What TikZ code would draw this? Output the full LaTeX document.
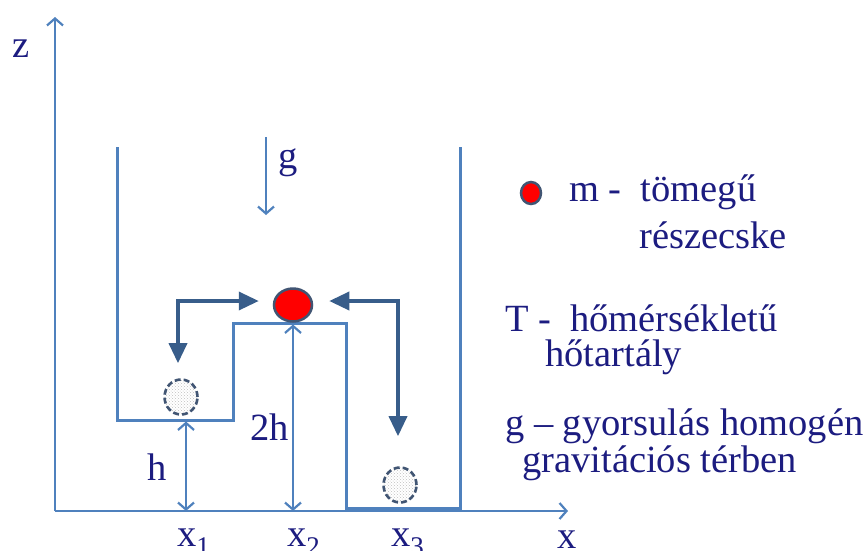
\documentclass[tikz,border=0pt]{standalone}
\usepackage{fontspec}
\setmainfont{Liberation Serif}
\usetikzlibrary{arrows.meta,shapes.geometric,patterns}
\definecolor{axisblue}{RGB}{79,129,189}
\definecolor{pushblue}{RGB}{56,93,138}
\definecolor{inkblue}{RGB}{28,28,128}
\definecolor{rimgrey}{RGB}{65,85,115}
\begin{document}
\begin{tikzpicture}[x=1pt, y=-1pt,
    wall/.style={draw=axisblue, line width=3pt, line join=miter},
    thinline/.style={draw=axisblue, line width=2.2pt},
    push/.style={draw=pushblue, line width=3.5pt,
        {Triangle[length=20pt,width=18pt]}-{Triangle[length=20pt,width=18pt]}},
    body/.style={ellipse, draw=rimgrey, line width=2.5pt, fill=red, inner sep=0pt},
    ghost/.style={ellipse, draw=rimgrey, line width=2.6pt, dash pattern=on 6pt off 3pt,
        pattern=crosshatch dots, pattern color=gray!50, inner sep=0pt,
        minimum width=33pt, minimum height=35pt},
    lbl/.style={text=inkblue, font=\fontsize{38.5}{44}\selectfont, inner sep=0pt, anchor=base west}]
    \useasboundingbox (0,0) rectangle (868,550);

    % axes
    \coordinate (o) at (55,511);
    \coordinate (ztip) at (55,17);
    \coordinate (xtip) at (568,511);
    \draw[thinline, -{Straight Barb[length=7pt,width=16pt]}] (o) -- (ztip);
    \draw[thinline, -{Straight Barb[length=7pt,width=16pt]}] (o) -- (xtip);
    \node[lbl] (zl) at (12,57) {z};
    \node[lbl] (xl) at (557,548) {x};

    % container with the step
    \draw[wall] (117,147) |- (233,420) |- (346,323) |- (460,508) -- (460,147);

    % particles
    \node[body, minimum width=38pt, minimum height=33pt] (m) at (293,305) {};
    \node[ghost] (p1) at (181,397) {};
    \node[ghost] (p3) at (400,485) {};

    % jumps
    \coordinate (c1) at (178,301);
    \coordinate (c3) at (398,301);
    \draw[push, shorten <=15pt, shorten >=14pt] (c1 |- p1.north) -- (c1) -- (c1 -| m.west);
    \draw[push, shorten <=16pt, shorten >=30pt] (c3 -| m.east) -- (c3) -- (c3 |- p3.north);

    % gravity
    \coordinate (g0) at (266,137);
    \coordinate (g1) at (266,215);
    \draw[thinline, -{Straight Barb[length=7pt,width=16pt]}] (g0) -- (g1);
    \node[lbl] (gl) at (278,168) {g};

    % heights
    \coordinate (t1) at (186,421.5);
    \coordinate (b1) at (186,511);
    \coordinate (t2) at (293,324.5);
    \coordinate (b2) at (293,511);
    \draw[thinline, {Straight Barb[length=7pt,width=16pt]}-{Straight Barb[length=7pt,width=16pt]}] (t1) -- (b1);
    \draw[thinline, {Straight Barb[length=7pt,width=16pt]}-{Straight Barb[length=7pt,width=16pt]}] (t2) -- (b2);
    \node[lbl] (hl) at (147,480) {h};
    \node[lbl] (hhl) at (250,440) {2h};

    % positions
    \node[lbl] (x1) at (177,546) {x\textsubscript{1}};
    \node[lbl] (x2) at (287,546) {x\textsubscript{2}};
    \node[lbl] (x3) at (391,546) {x\textsubscript{3}};

    % legend
    \node[body, minimum width=20pt, minimum height=22pt] (dot) at (531,193) {};
    \node[lbl] (m1) at (569,201) {m -\ \ tömegű};
    \node[lbl] (m2) at (639,248) {részecske};
    \node[lbl] (t1l) at (505,331) {T -\ \ hőmérsékletű};
    \node[lbl] (t2l) at (545,366) {hőtartály};
    \node[lbl] (g1l) at (505,435) {g – gyorsulás\ homogén};
    \node[lbl] (g2l) at (522,472) {gravitációs térben};
\end{tikzpicture}
\end{document}
